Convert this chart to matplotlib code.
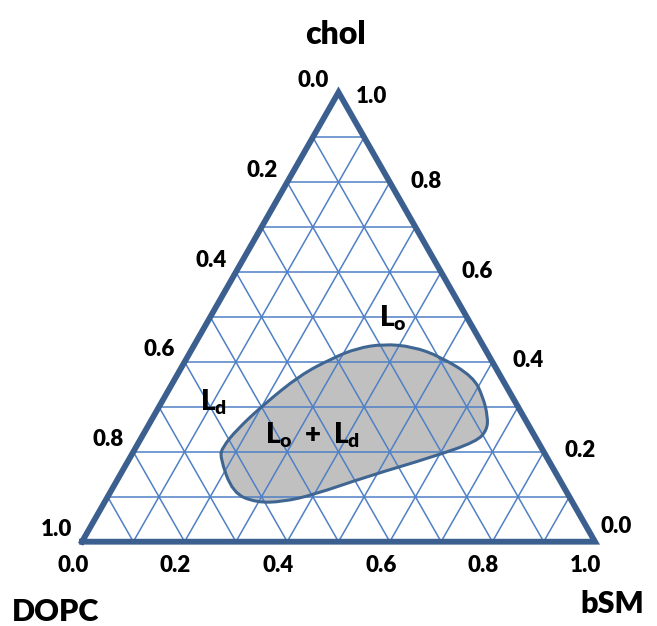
import numpy as np
import matplotlib
matplotlib.use("Agg")
import matplotlib.pyplot as plt
from matplotlib.path import Path
from matplotlib.patches import PathPatch

plt.rcParams['font.family'] = ['Lato', 'DejaVu Sans']
plt.rcParams['mathtext.fontset'] = 'custom'
plt.rcParams['mathtext.rm'] = 'Lato:heavy'
plt.rcParams['mathtext.bf'] = 'Lato:heavy'
plt.rcParams['mathtext.it'] = 'Lato:heavy'

# ---- data ----
grid_fracs = [0.1, 0.2, 0.3, 0.4, 0.5, 0.6, 0.7, 0.8, 0.9]
tick_values = [0.0, 0.2, 0.4, 0.6, 0.8, 1.0]
tick_labels = ["0.0", "0.2", "0.4", "0.6", "0.8", "1.0"]
vertex_names = ["DOPC", "bSM", "chol"]

# two-phase region boundary (bSM fraction, chol fraction)
blob_bsm = [0.174, 0.240, 0.297, 0.347, 0.398, 0.483, 0.590, 0.658, 0.665, 0.652,
            0.620, 0.579, 0.492, 0.428, 0.367, 0.320, 0.285, 0.240, 0.201, 0.177, 0.169]
blob_chol = [0.189, 0.108, 0.087, 0.089, 0.104, 0.145, 0.189, 0.223, 0.249, 0.278,
             0.323, 0.367, 0.412, 0.434, 0.440, 0.430, 0.409, 0.371, 0.304, 0.249, 0.211]

phase_labels = [r"$\mathbf{L_o}$", r"$\mathbf{L_d}$", r"$\mathbf{L_o\ +\ L_d}$"]
phase_bsm = [0.357, 0.100, 0.330]
phase_chol = [0.498, 0.311, 0.237]

# ---- geometry ----
H = 449.4 / 513.0


def tern(b, c):
    b = np.asarray(b, float)
    c = np.asarray(c, float)
    return b + c / 2.0, c * H


border_col = "#3b5f8f"
grid_col = "#4f80c6"
blob_edge = "#3f6692"
blob_fill = "#c0c0c0"

fig = plt.figure(figsize=(6.57, 6.26), dpi=100)
ax = fig.add_axes([0, 0, 1, 1])
ax.set_xlim(-82 / 513, (657 - 82) / 513)
ax.set_ylim((541.7 - 626) / 513, 541.7 / 513)
ax.axis("off")

# grid
for f in grid_fracs:
    for (b0, c0, b1, c1) in [(0, f, 1 - f, f), (f, 0, f, 1 - f), (1 - f, 0, 0, 1 - f)]:
        x, y = tern([b0, b1], [c0, c1])
        ax.plot(x, y, color=grid_col, lw=1.1, zorder=2, solid_capstyle="butt")

# blob (smooth closed curve through quadratic bezier segments)
bx, by = tern(blob_bsm, blob_chol)
pts = np.column_stack([bx, by])
n = len(pts)
mids = (pts + np.roll(pts, -1, axis=0)) / 2.0
verts = [mids[-1]]
codes = [Path.MOVETO]
for i in range(n):
    verts += [pts[i], mids[i]]
    codes += [Path.CURVE3, Path.CURVE3]
path = Path(verts, codes)
ax.add_patch(PathPatch(path, facecolor=blob_fill, edgecolor="none", zorder=1))
ax.add_patch(PathPatch(path, facecolor="none", edgecolor=blob_edge, lw=2.2, zorder=3))

# triangle border
tx, ty = tern([0, 1, 0, 0], [0, 0, 1, 0])
ax.plot(tx, ty, color=border_col, lw=4.2, zorder=4, solid_joinstyle="miter")

tick_kw = dict(textcoords="offset pixels", ha="center", va="center",
               fontsize=16, fontweight="heavy", color="black")
# left axis: DOPC fraction (0 at top, 1 at bottom)
for v, lab in zip(tick_values, tick_labels):
    x, y = tern(0, 1 - v)
    ax.annotate(lab, (x, y), xytext=(-25, 12), **tick_kw)
# right axis: chol fraction (0 at bottom, 1 at top)
for v, lab in zip(tick_values, tick_labels):
    x, y = tern(1 - v, v)
    if v == 0.0:
        off = (21, 15)
    elif v == 1.0:
        off = (33, -4)
    else:
        off = (36, 1)
    ax.annotate(lab, (x, y), xytext=off, **tick_kw)
# bottom axis: bSM fraction
for v, lab in zip(tick_values, tick_labels):
    x, y = tern(v, 0)
    ax.annotate(lab, (x, y), xytext=(-9, -24), **tick_kw)

# vertex names
name_kw = dict(textcoords="offset pixels", ha="center", va="center",
               fontweight="heavy", color="black")
ax.annotate(vertex_names[0], tern(0, 0), xytext=(-27, -70), fontsize=22, **name_kw)
ax.annotate(vertex_names[1], tern(1, 0), xytext=(17, -62), fontsize=22, **name_kw)
ax.annotate(vertex_names[2], tern(0, 1), xytext=(-3, 58), fontsize=23, **name_kw)

# phase labels
for lab, b, c in zip(phase_labels, phase_bsm, phase_chol):
    x, y = tern(b, c)
    ax.text(x, y, lab, ha="center", va="center", fontsize=20, color="black", zorder=5)

fig.savefig("out.png", dpi=100)
